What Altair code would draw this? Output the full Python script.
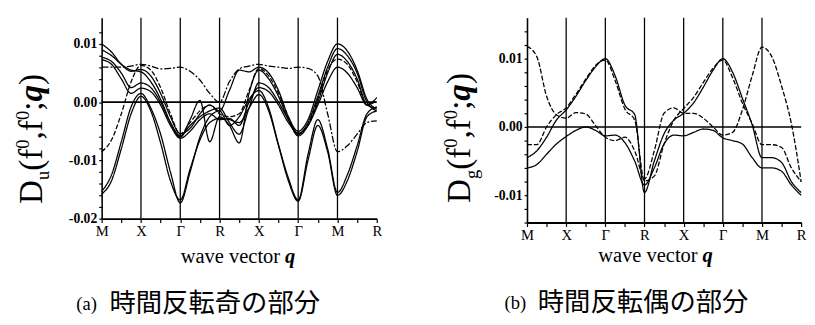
import json
import altair as alt
import pandas as pd

# ---------------- data (values in units of 1e-3) ----------------
Q = [0, 0.25, 0.5, 0.75, 1, 1.25, 1.5, 1.75, 2, 2.25, 2.5, 2.75, 3, 3.25, 3.5,
     3.75, 4, 4.25, 4.5, 4.75, 5, 5.25, 5.5, 5.75, 6, 6.25, 6.5, 6.75, 7]
X_TICK_LABELS = ["M", "X", "Γ", "R", "X", "Γ", "M", "R"]
X_TICKS = [0, 0.5, 1, 1.5, 2, 2.5, 3, 3.5, 4, 4.5, 5, 5.5, 6, 6.5, 7]
V_LINES = [1, 2, 3, 4, 5, 6]
ZERO = [0]

# (a) time-reversal odd part
A_C1 = [10.0, 8.6, 6.5, 5.3, 5.6, 4.5, 1.5, -2.5, -5.4, -4.5, -2.0, -0.5, -1.5, 2.0, 5.5,
        5.2, 6.0, 5.0, 2.0, -2.5, -5.0, -3.0, 2.0, 7.0, 10.0, 8.8, 5.5, 0.5, -1.2]
A_C2 = [9.0, 8.0, 6.5, 5.5, 5.2, 3.5, 0.5, -3.5, -6.0, -3.0, 0.3, -6.8, -2.5, -4.0, -7.0,
        1.5, 5.5, 4.0, 1.0, -3.0, -5.5, -3.5, 1.0, 6.0, 9.2, 8.0, 5.0, 0.0, -1.5]
A_C3 = [7.7, 7.0, 5.0, 2.5, 3.3, 2.5, 0.0, -3.5, -5.8, -4.0, -2.5, -1.5, -1.0, -3.5, -5.5,
        -1.0, 3.3, 2.5, 0.0, -3.0, -5.8, -4.0, 0.0, 5.0, 8.2, 7.0, 4.0, -0.5, -1.0]
A_C4 = [7.3, 6.5, 4.0, 1.5, 2.4, 1.8, -0.5, -4.0, -6.2, -5.0, -3.0, -2.0, -3.0, -2.8, -4.0,
        0.0, 2.5, 1.8, -0.5, -3.5, -5.3, -4.0, -0.5, 3.5, 6.0, 5.0, 2.5, -0.5, 0.8]
A_C5 = [-8.5, -6.5, -2.0, 3.5, 6.3, 5.5, 2.5, -2.0, -5.5, -3.5, -1.5, -0.5, -2.0, -2.5, -2.0,
        2.0, 5.8, 4.5, 1.5, -2.5, -5.5, -3.8, 0.5, 5.5, 7.4, 6.5, 3.5, -0.5, 0.3]
A_C6 = [6.0, 6.0, 6.0, 6.2, 6.5, 6.2, 5.7, 5.8, 6.0, 5.3, 3.8, 1.5, 0.0, 3.5, 5.7,
        6.2, 6.5, 6.2, 6.0, 5.8, 6.0, 5.8, 4.5, -2.0, -8.5, -7.5, -5.5, -3.5, -3.2]
A_C7 = [-15.3, -12.5, -6.8, -0.8, 1.5, -1.0, -5.5, -12.0, -17.3, -12.0, -6.0, -2.5, -1.5, -4.0, -2.5,
        0.5, 2.0, -1.0, -7.3, -13.0, -16.8, -9.0, -3.0, -8.0, -15.5, -12.5, -7.5, -2.0, -0.8]
A_C8 = [-15.8, -13.5, -8.0, -2.0, 1.0, -1.5, -7.0, -13.5, -16.8, -11.5, -6.5, -3.5, -2.8, -3.0, -3.5,
        -1.0, 1.3, -1.5, -7.5, -13.5, -17.0, -10.0, -4.0, -8.5, -16.0, -13.5, -8.5, -2.5, -1.5]
A_CURVES = [A_C1, A_C2, A_C3, A_C4, A_C5, A_C6, A_C7, A_C8]
A_STYLES = ["solid", "solid", "solid", "solid", "dash", "dashdot", "solid", "solid"]
A_YTICKS = [-20, -18, -16, -14, -12, -10, -8, -6, -4, -2, 0, 2, 4, 6, 8, 10, 12]
A_YLABELED = [-20, -10, 0, 10]
A_YLABELS = ["-0.02", "-0.01", "0.00", "0.01"]
A_YDOMAIN = [-20, 14.5]

# (b) time-reversal even part
B_G1 = [11.8, 10.3, 4.5, 1.8, 1.3, 2.1, 1.9, 0.2, -1.5, -2.0, -1.5, -3.5, -7.6, -3.5, 2.0,
        2.8, 2.0, 2.0, 1.3, 0.0, -1.2, -0.8, 2.5, 7.5, 11.7, 10.3, 6.0, 0.5, -8.0]
B_G2 = [-4.5, -3.5, -1.5, 1.0, 2.5, 4.5, 6.8, 8.8, 10.0, 7.5, 3.2, 1.8, -9.6, -5.0, -1.0,
        1.0, 2.0, 3.5, 5.8, 8.3, 10.0, 8.0, 4.2, 0.3, -4.5, -4.5, -5.2, -8.0, -9.6]
B_G3 = [-2.6, -2.6, 0.0, 1.8, 2.8, 4.8, 7.0, 9.0, 9.8, 6.8, 2.6, 1.0, -7.9, -7.2, -2.5,
        1.0, 2.7, 4.3, 6.5, 8.6, 9.8, 7.2, 3.5, 0.5, -2.6, -2.6, -3.0, -6.0, -8.0]
B_G4 = [-6.0, -5.5, -4.0, -2.5, -1.4, -0.5, 0.0, -0.5, -1.3, -1.2, -2.3, -5.0, -8.5, -6.0, -2.5,
        -1.2, -1.3, -0.8, -0.3, -0.5, -1.6, -2.0, -2.5, -4.5, -6.0, -6.0, -6.5, -8.5, -10.0]
B_CURVES = [B_G1, B_G2, B_G3, B_G4]
B_STYLES = ["dash", "solid", "dash", "solid"]
B_YTICKS = [-14, -12, -10, -8, -6, -4, -2, 0, 2, 4, 6, 8, 10, 12, 14]
B_YLABELED = [-10, 0, 10]
B_YLABELS = ["-0.01", "0.00", "0.01"]
B_YDOMAIN = [-14, 16]

X_TITLE = "wave vector "
CAPTION_A = ("(a)", "時間反転奇の部分")
CAPTION_B = ("(b)", "時間反転偶の部分")

FONT = "Liberation Serif"
CJK = "Noto Sans CJK JP"


def curves_frame(curves, styles):
    rows = []
    for i, (vals, st) in enumerate(zip(curves, styles)):
        for q, v in zip(Q, vals):
            rows.append({"series": f"s{i}", "style": st, "q": q, "v": v})
    return pd.DataFrame(rows)


def one(text, x, y, **kw):
    return alt.Chart(alt.Data(values=[{}])).mark_text(text=text, color="black", **kw).encode(
        x=alt.value(x), y=alt.value(y))


def y_title(sub, x0, y0, fs=34, sfs=19):
    pieces = [
        ("D", fs, 0, 0.722 * fs, "normal", "normal"),
        (sub, sfs, 0.22 * fs, 0.5 * sfs, "normal", "normal"),
        ("(f", fs, 0, 0.666 * fs, "normal", "normal"),
        ("0", sfs, -0.4 * fs, 0.5 * sfs, "normal", "normal"),
        (",f", fs, 0, 0.583 * fs, "normal", "normal"),
        ("0", sfs, -0.4 * fs, 0.5 * sfs, "normal", "normal"),
        (";", fs, 0, 0.278 * fs, "normal", "normal"),
        ("q", fs, 0, 0.5 * fs, "bold", "italic"),
        (")", fs, 0, 0.333 * fs, "normal", "normal"),
    ]
    layers = []
    pos = y0
    for text, size, shift, w, weight, style in pieces:
        layers.append(one(text, x0 + shift, pos, angle=270, align="left", baseline="alphabetic",
                          font=FONT, fontSize=size, fontWeight=weight, fontStyle=style))
        pos -= w
    return layers


def panel(curves, styles, ydomain, yticks, ylabeled, ylabels, width, height,
          sub, tx, ty, wx, wy, caption, cx, cy):
    df = curves_frame(curves, styles)
    xexpr = f"datum.value % 1 == 0 ? {json.dumps(X_TICK_LABELS)}[datum.value] : ''"
    yexpr = ""
    for val, lab in zip(ylabeled, ylabels):
        yexpr += f"datum.value == {val} ? '{lab}' : "
    yexpr += "''"
    xaxis = alt.Axis(values=X_TICKS, labelExpr=xexpr, title=None, grid=False,
                     labelFont=FONT, labelFontSize=15, labelColor="black", labelPadding=1,
                     labelOverlap=False, labelFlush=False,
                     tickSize=4, tickColor="black", tickWidth=1.2,
                     domainColor="black", domainWidth=2)
    yaxis = alt.Axis(values=yticks, labelExpr=yexpr, title=None, grid=False,
                     labelFont=FONT, labelFontSize=14, labelFontWeight="bold",
                     labelColor="black", labelPadding=2, labelOverlap=False,
                     tickSize=3, tickColor="black", tickWidth=1.2,
                     domainColor="black", domainWidth=1.6)
    xs = alt.Scale(domain=[0, 7], nice=False, zero=False)
    ys = alt.Scale(domain=ydomain, nice=False, zero=False)
    lines = alt.Chart(df).mark_line(interpolate="monotone", color="black", strokeWidth=1.3).encode(
        x=alt.X("q:Q", scale=xs, axis=xaxis),
        y=alt.Y("v:Q", scale=ys, axis=yaxis),
        detail="series:N",
        strokeDash=alt.StrokeDash("style:N", legend=None,
                                  scale=alt.Scale(domain=["solid", "dash", "dashdot"],
                                                  range=[[1, 0], [5, 2], [7, 2, 2, 2]])),
    )
    vrules = alt.Chart(pd.DataFrame({"q": V_LINES})).mark_rule(color="black", strokeWidth=1.3).encode(
        x=alt.X("q:Q", scale=xs, axis=xaxis))
    hrule = alt.Chart(pd.DataFrame({"v": ZERO})).mark_rule(color="black", strokeWidth=1.6).encode(
        y=alt.Y("v:Q", scale=ys, axis=yaxis))
    texts = y_title(sub, tx, ty)
    texts.append(one(X_TITLE, wx, wy, align="left", baseline="alphabetic", font=FONT, fontSize=21))
    texts.append(one("q", wx + 107, wy, align="left", baseline="alphabetic", font=FONT,
                     fontSize=21, fontWeight="bold", fontStyle="italic"))
    texts.append(one(caption[0], cx - 34, cy, align="left", baseline="middle", font=FONT, fontSize=19))
    texts.append(one(caption[1], cx, cy, align="left", baseline="middle", font=CJK, fontSize=27))
    return alt.layer(lines, vrules, hrule, *texts).properties(width=width, height=height)


left = panel(A_CURVES, A_STYLES, A_YDOMAIN, A_YTICKS, A_YLABELED, A_YLABELS, 282, 206,
             "u", -61, 191, 81, 251, CAPTION_A, 8, 294)
right = panel(B_CURVES, B_STYLES, B_YDOMAIN, B_YTICKS, B_YLABELED, B_YLABELS, 281, 210,
              "g", -58, 190, 73, 250, CAPTION_B, 11, 293)

chart = alt.hconcat(left, right, spacing=60).properties(
    padding={"left": 5, "top": 4, "right": 0, "bottom": 0},
    background="white",
).configure_view(stroke="transparent")

chart.save("out.html", embed_options={"renderer": "svg", "actions": False})
